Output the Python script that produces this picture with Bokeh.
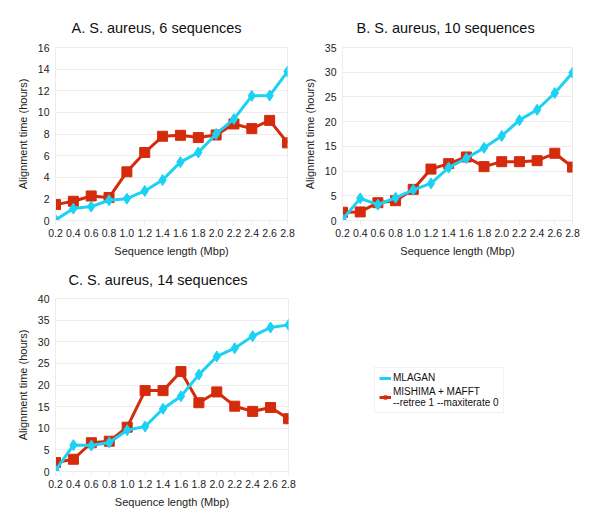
from bokeh.plotting import figure
from bokeh.layouts import row, column
from bokeh.models import FixedTicker, Legend, LegendItem, ColumnDataSource, Title
from bokeh.embed import file_html
from bokeh.resources import INLINE

x_mbp = [0.2, 0.4, 0.6, 0.8, 1.0, 1.2, 1.4, 1.6, 1.8, 2.0, 2.2, 2.4, 2.6, 2.8]
x_labels = ["0.2", "0.4", "0.6", "0.8", "1.0", "1.2", "1.4", "1.6", "1.8", "2.0", "2.2", "2.4", "2.6", "2.8"]

mlagan_6 = [0.06, 1.1, 1.29, 1.87, 2.02, 2.73, 3.74, 5.4, 6.29, 8.0, 9.39, 11.53, 11.55, 13.77]
mishima_6 = [1.47, 1.78, 2.27, 2.12, 4.5, 6.29, 7.79, 7.88, 7.67, 7.91, 8.93, 8.5, 9.26, 7.18]

mlagan_10 = [0.2, 4.48, 3.2, 4.6, 6.2, 7.5, 10.7, 12.6, 14.7, 17.1, 20.3, 22.4, 25.8, 29.9]
mishima_10 = [1.67, 1.74, 3.6, 4.0, 6.3, 10.4, 11.5, 12.85, 10.9, 11.9, 11.9, 12.1, 13.6, 10.8]

mlagan_14 = [0.23, 6.1, 6.0, 6.7, 9.56, 10.4, 14.5, 17.4, 22.4, 26.6, 28.5, 31.3, 33.3, 33.9]
mishima_14 = [2.06, 2.83, 6.65, 7.0, 10.25, 18.7, 18.7, 23.1, 15.9, 18.4, 15.1, 13.9, 14.8, 12.2]

titles = ["A. S. aureus, 6 sequences", "B. S. aureus, 10 sequences", "C. S. aureus, 14 sequences"]
y_max = [16, 35, 40]
y_step = [2, 5, 5]

CYAN = "#1BD2F2"
RED = "#D42B0C"
FONT = "Liberation Sans"
GRID = "#ececec"


def make_panel(idx, mlagan, mishima, borders, offset, standoff):
    left, right, top, bottom, w, h = borders
    p = figure(width=w, height=h, output_backend="svg", toolbar_location=None,
               x_range=(0.2, 2.8), y_range=(0, y_max[idx]),
               min_border_left=left, min_border_right=right,
               min_border_top=top, min_border_bottom=bottom)
    p.title = Title(text=titles[idx], text_font=FONT, text_font_size="14.5px",
                    text_font_style="normal", text_color="#111111", align="left",
                    offset=offset, standoff=standoff)
    p.outline_line_color = GRID
    p.xgrid.grid_line_color = None
    p.ygrid.grid_line_color = GRID
    p.xaxis.ticker = FixedTicker(ticks=x_mbp)
    p.xaxis.major_label_overrides = {v: s for v, s in zip(x_mbp, x_labels)}
    p.yaxis.ticker = FixedTicker(ticks=list(range(0, y_max[idx] + 1, y_step[idx])))
    for ax in (p.xaxis[0], p.yaxis[0]):
        ax.axis_line_color = GRID
        ax.major_tick_line_color = GRID
        ax.minor_tick_line_color = None
        ax.major_tick_in = 0
        ax.major_tick_out = 4
        ax.major_label_text_font = FONT
        ax.major_label_text_font_size = "10.5px"
        ax.major_label_text_color = "#222222"
        ax.axis_label_text_font = FONT
        ax.axis_label_text_font_size = "11px"
        ax.axis_label_text_font_style = "normal"
        ax.axis_label_text_color = "#222222"
    p.yaxis.major_tick_out = 0
    p.xaxis.axis_label = "Sequence length (Mbp)"
    p.yaxis.axis_label = "Alignment time (hours)"
    p.xaxis.axis_label_standoff = 5
    p.yaxis.axis_label_standoff = 6
    p.xaxis.major_label_standoff = 4
    p.yaxis.major_label_standoff = 6

    src = ColumnDataSource(dict(x=x_mbp, m=mlagan, s=mishima))
    p.line("x", "s", source=src, line_color=RED, line_width=3)
    p.scatter("x", "s", source=src, marker="square", size=10, fill_color=RED, line_color=RED)
    p.line("x", "m", source=src, line_color=CYAN, line_width=3)
    p.scatter("x", "m", source=src, marker="diamond", size=11, fill_color=CYAN, line_color=CYAN)
    return p


pa = make_panel(0, mlagan_6, mishima_6, (55, 13, 47, 38, 300, 259), 16, 23)
pb = make_panel(1, mlagan_10, mishima_10, (38, 20, 46, 39, 292, 259), 14, 23)
pc = make_panel(2, mlagan_14, mishima_14, (55, 12, 38, 45, 300, 257), 13, 21)

# legend panel
pl = figure(width=292, height=257, output_backend="svg", toolbar_location=None,
            x_range=(0, 1), y_range=(0, 1), min_border=0)
pl.axis.visible = False
pl.grid.visible = False
pl.outline_line_color = None
hidden = ColumnDataSource(dict(x=[5, 6], y=[5, 6]))
r1 = pl.line("x", "y", source=hidden, line_color=CYAN, line_width=3)
r1m = pl.scatter("x", "y", source=hidden, marker="diamond", size=9, fill_color=CYAN, line_color=CYAN)
r2 = pl.line("x", "y", source=hidden, line_color=RED, line_width=3)
r2m = pl.scatter("x", "y", source=hidden, marker="square", size=7, fill_color=RED, line_color=RED)
leg = Legend(items=[LegendItem(label="MLAGAN", renderers=[r1, r1m]),
                    LegendItem(label="MISHIMA + MAFFT\n--retree 1 --maxiterate 0", renderers=[r2, r2m])],
             location=(74, 58), label_text_font=FONT, label_text_font_size="10px",
             label_text_color="#111111", glyph_width=12, glyph_height=8,
             label_standoff=2, spacing=3, padding=4, margin=0,
             border_line_color="#e6e6e6", label_height=10, label_text_line_height=1.3)
pl.add_layout(leg)

layout = column(row(pa, pb), row(pc, pl))

open("out.html", "w").write(file_html(layout, INLINE))
